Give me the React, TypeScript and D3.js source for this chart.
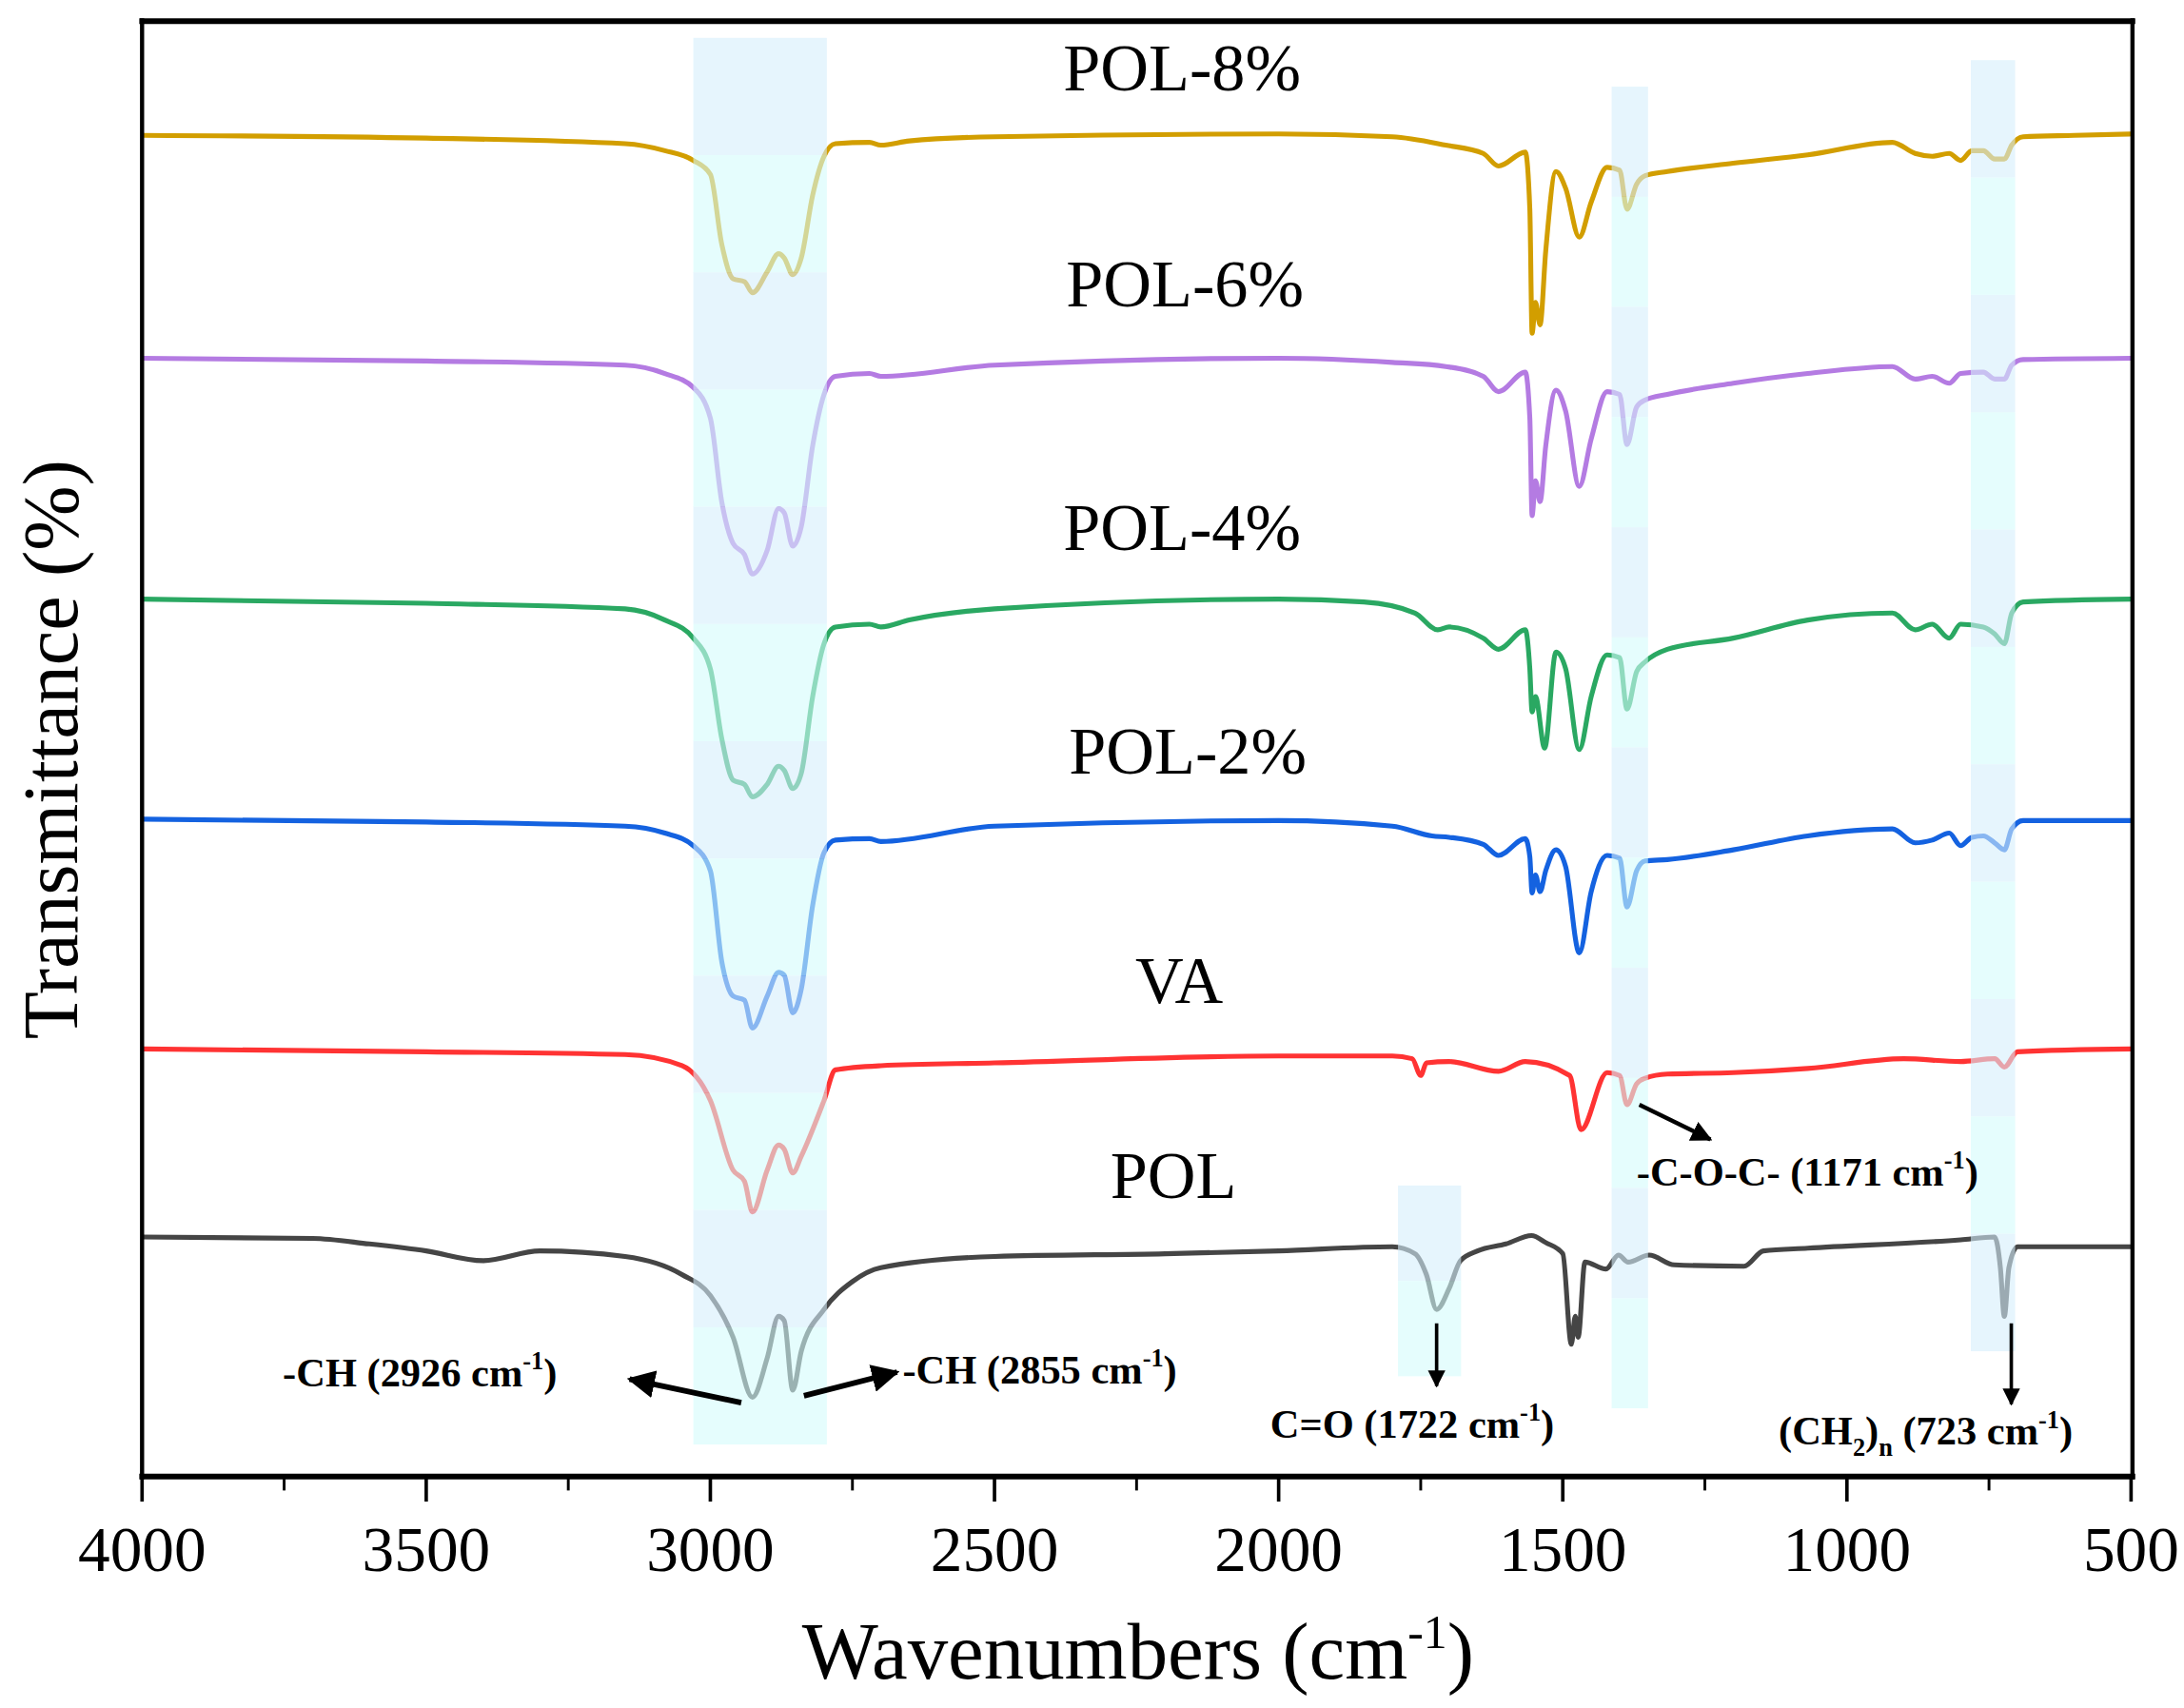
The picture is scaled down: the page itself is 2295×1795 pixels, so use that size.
import * as d3 from 'd3';

// wavenumber (cm-1), offset transmittance (a.u.)
const pol8: [number, number][] = [[4000,96.3],[3500,96.1],[3150,95.7],[3080,95.2],[3030,94.5],[3000,93.5],[2980,88.5],[2960,86.0],[2940,85.8],[2926,85.0],[2900,86.5],[2880,87.8],[2870,87.5],[2855,86.3],[2840,87.5],[2820,92.0],[2800,94.8],[2780,95.7],[2720,95.8],[2700,95.6],[2650,95.9],[2500,96.2],[2000,96.4],[1800,96.2],[1706,95.6],[1640,95.0],[1613,94.1],[1566,95.1],[1558,91.0],[1554,82.1],[1548,84.3],[1540,82.7],[1530,88.0],[1512,93.7],[1495,92.5],[1471,89.0],[1450,91.5],[1422,94.0],[1400,93.8],[1387,91.0],[1370,92.8],[1355,93.4],[1316,93.7],[1200,94.3],[1069,94.9],[920,95.8],[880,95.0],[850,94.8],[820,95.0],[800,94.5],[780,95.2],[760,95.2],[740,94.6],[723,94.6],[710,95.6],[690,96.2],[600,96.3],[500,96.4]];
const pol6: [number, number][] = [[4000,80.3],[3500,80.1],[3150,79.8],[3080,79.2],[3030,78.2],[3000,76.0],[2980,70.0],[2960,67.0],[2940,66.2],[2926,64.8],[2900,66.5],[2880,69.5],[2870,69.2],[2855,66.8],[2840,68.2],[2820,74.0],[2800,77.7],[2780,79.0],[2720,79.2],[2700,79.0],[2500,79.8],[2000,80.3],[1800,80.0],[1706,79.7],[1640,79.0],[1613,77.9],[1566,79.3],[1558,76.0],[1554,69.0],[1548,71.5],[1540,70.0],[1530,74.0],[1512,78.0],[1495,76.5],[1471,71.1],[1450,74.5],[1422,77.9],[1400,77.7],[1387,74.1],[1370,76.8],[1355,77.3],[1316,77.7],[1200,78.5],[1069,79.2],[920,79.7],[880,78.8],[850,79.0],[820,78.5],[800,79.2],[760,79.3],[740,78.8],[723,78.8],[710,79.8],[690,80.2],[500,80.3]];
const pol4: [number, number][] = [[4000,63.0],[3500,62.7],[3150,62.3],[3080,61.5],[3030,60.2],[3000,58.0],[2980,53.0],[2960,50.0],[2940,49.7],[2926,48.8],[2900,49.7],[2880,51.0],[2870,50.7],[2855,49.4],[2840,50.5],[2820,56.0],[2800,59.8],[2780,61.0],[2720,61.2],[2700,61.0],[2650,61.5],[2500,62.3],[2000,63.0],[1850,62.8],[1760,62.0],[1720,60.8],[1700,61.0],[1640,60.2],[1613,59.4],[1566,60.8],[1558,58.0],[1554,54.9],[1548,56.0],[1532,52.3],[1512,59.2],[1495,58.0],[1471,52.2],[1450,56.0],[1422,59.0],[1400,58.8],[1387,55.1],[1370,57.8],[1355,58.5],[1316,59.4],[1200,60.2],[1069,61.5],[920,62.0],[880,60.8],[850,61.2],[820,60.2],[800,61.2],[760,61.0],[740,60.5],[723,59.8],[710,62.0],[690,62.8],[500,63.0]];
const pol2: [number, number][] = [[4000,47.2],[3500,47.0],[3150,46.7],[3080,46.2],[3030,45.3],[3000,43.5],[2980,37.0],[2960,34.5],[2940,34.2],[2926,32.2],[2900,34.5],[2880,36.2],[2870,36.0],[2855,33.3],[2840,35.0],[2820,41.0],[2800,44.8],[2780,45.7],[2720,45.8],[2700,45.6],[2500,46.7],[2000,47.1],[1800,46.7],[1730,46.0],[1700,45.9],[1640,45.4],[1613,44.6],[1566,45.8],[1558,44.5],[1554,41.9],[1548,43.2],[1540,42.0],[1530,43.5],[1512,45.0],[1495,43.8],[1471,37.6],[1450,42.0],[1422,44.6],[1400,44.4],[1387,40.9],[1370,43.5],[1355,44.2],[1316,44.3],[1200,45.0],[1069,46.0],[920,46.5],[880,45.5],[850,45.7],[820,46.2],[800,45.3],[780,45.9],[760,46.0],[740,45.5],[723,45.0],[710,46.5],[690,47.1],[500,47.1]];
const va: [number, number][] = [[4000,30.7],[3500,30.5],[3150,30.3],[3050,29.5],[3000,27.0],[2960,22.0],[2940,21.2],[2926,19.0],[2900,22.0],[2880,23.8],[2870,23.5],[2855,21.8],[2840,23.0],[2800,27.0],[2780,29.2],[2700,29.5],[2500,29.7],[2000,30.2],[1800,30.2],[1765,30.0],[1750,28.8],[1740,29.7],[1700,29.8],[1613,29.1],[1566,29.8],[1488,28.8],[1468,24.9],[1422,29.0],[1400,28.8],[1387,26.7],[1370,28.2],[1355,28.6],[1316,28.9],[1200,29.0],[1069,29.3],[900,30.0],[800,29.8],[740,30.0],[723,29.4],[700,30.5],[500,30.7]];
const pol: [number, number][] = [[4000,17.2],[3700,17.1],[3600,16.7],[3500,16.2],[3400,15.5],[3300,16.2],[3150,15.8],[3050,14.5],[3000,13.0],[2960,10.0],[2926,5.7],[2900,8.5],[2880,11.5],[2870,11.2],[2855,6.2],[2840,9.0],[2800,12.0],[2750,14.0],[2700,15.0],[2500,15.8],[2200,16.0],[2000,16.2],[1800,16.5],[1760,16.0],[1740,14.5],[1722,12.0],[1700,13.5],[1680,15.5],[1650,16.2],[1600,16.7],[1555,17.3],[1530,16.8],[1500,16.0],[1485,9.5],[1478,11.5],[1473,10.0],[1461,15.4],[1424,14.9],[1402,15.9],[1385,15.4],[1348,15.9],[1304,15.2],[1181,15.1],[1147,16.2],[1069,16.4],[800,17.0],[740,17.2],[730,15.0],[723,11.5],[715,15.0],[700,16.5],[500,16.5]];

const seriesNames = ['POL-8%', 'POL-6%', 'POL-4%', 'POL-2%', 'VA', 'POL'];
const seriesData = [pol8, pol6, pol4, pol2, va, pol];
const seriesColors = ['#D29E00', '#B47BE2', '#2AA862', '#1462E0', '#FF3333', '#454545'];
const labelPos: [number, number][] = [[2170, 99.5], [2165, 84], [2170, 66.5], [2160, 50.5], [2175, 34], [2185, 20]];

// highlighted bands: [from, to, top value, bottom value]
const bands: [number, number, number, number][] = [[3030, 2795, 103.3, 2.3], [1790, 1679, 20.9, 7.2], [1414, 1350, 99.8, 4.9], [782, 704, 101.7, 9]];

const xTicks = [4000, 3500, 3000, 2500, 2000, 1500, 1000, 500];
const minorTicks = d3.range(3750, 500, -500);

const W = 1568, H = 1226;
const x = d3.scaleLinear().domain([4000, 500]).range([102, 1530]);
const y = d3.scaleLinear().domain([0, 103.8]).range([1060, 22]);
const line = d3.line<[number, number]>().x(d => x(d[0])).y(d => y(d[1])).curve(d3.curveMonotoneX);
const serif = '"Times New Roman", "Liberation Serif", serif';

function Arrow({ x1, y1, x2, y2, w = 3 }: { x1: number; y1: number; x2: number; y2: number; w?: number }) {
  return <line x1={x1} y1={y1} x2={x2} y2={y2} stroke="#000" strokeWidth={w} markerEnd="url(#ah)" />;
}

function Sup({ t }: { t: string }) {
  return <><tspan dy={-12} fontSize={18}>{t}</tspan><tspan dy={12}>)</tspan></>;
}

export default function App() {
  const stripes = (b: [number, number, number, number], i: number) => {
    const x0 = x(b[0]), x1 = x(b[1]), top = y(b[2]), bot = y(b[3]);
    const n = Math.max(1, Math.round((bot - top) / 81));
    const h = (bot - top) / n;
    return d3.range(n).map(k => (
      <rect key={`${i}-${k}`} x={x0} y={top + k * h} width={x1 - x0} height={h}
        fill={k % 2 === 0 ? '#D6EEFB' : '#D4FCFC'} opacity={0.6} />
    ));
  };
  return (
    <svg width={2295} height={1795} viewBox={`0 0 ${W} ${H}`} style={{ position: 'absolute', left: 0, top: 0, background: '#fff' }} fontFamily={serif}>
      <defs>
        <marker id="ah" viewBox="0 0 10 10" refX="9" refY="5" markerWidth="5" markerHeight="5" orient="auto">
          <path d="M0,0 L10,5 L0,10 z" fill="#000" />
        </marker>
      </defs>
      {seriesData.map((d, i) => (
        <path key={seriesNames[i]} d={line(d) || ''} fill="none" stroke={seriesColors[i]} strokeWidth={3.5} strokeLinejoin="round" />
      ))}
      {bands.map((b, i) => stripes(b, i))}
      {seriesNames.map((n, i) => (
        <text key={n} x={x(labelPos[i][0])} y={y(labelPos[i][1])} fontSize={48} textAnchor="middle">{n}</text>
      ))}
      {/* frame */}
      <line x1={100} y1={15} x2={1533} y2={15} stroke="#000" strokeWidth={4} />
      <line x1={102} y1={13} x2={102} y2={1062} stroke="#000" strokeWidth={3} />
      <line x1={1531} y1={13} x2={1531} y2={1062} stroke="#000" strokeWidth={3} />
      <line x1={100} y1={1060} x2={1533} y2={1060} stroke="#000" strokeWidth={4} />
      {xTicks.map(t => (
        <g key={t}>
          <line x1={x(t)} x2={x(t)} y1={1060} y2={1078} stroke="#000" strokeWidth={2.5} />
          <text x={x(t)} y={1128} fontSize={46} textAnchor="middle">{t}</text>
        </g>
      ))}
      {minorTicks.map(t => <line key={t} x1={x(t)} x2={x(t)} y1={1060} y2={1070} stroke="#000" strokeWidth={2} />)}
      <text x={817} y={1205} fontSize={58} textAnchor="middle">Wavenumbers (cm<tspan dy={-22} fontSize={34}>-1</tspan><tspan dy={22}>)</tspan></text>
      <text transform="translate(55,538) rotate(-90)" fontSize={56} textAnchor="middle">Transmittance (%)</text>
      {/* annotations */}
      <g fontWeight="bold" fontSize={29}>
        <text x={203} y={995}>-CH (2926 cm<Sup t="-1" /></text>
        <Arrow x1={x(2926) - 8} y1={y(5.3)} x2={452} y2={990} w={4} />
        <text x={648} y={993}>-CH (2855 cm<Sup t="-1" /></text>
        <Arrow x1={x(2855) + 8} y1={y(5.8)} x2={644} y2={985} w={4} />
        <text x={912} y={1032}>C=O (1722 cm<Sup t="-1" /></text>
        <Arrow x1={x(1722)} y1={y(11)} x2={x(1722)} y2={995} w={2.5} />
        <text x={1277} y={1037}>(CH<tspan dy={8} fontSize={18}>2</tspan><tspan dy={-8}>)</tspan><tspan dy={8} fontSize={18}>n</tspan><tspan dy={-8}> (723 cm</tspan><Sup t="-1" /></text>
        <Arrow x1={x(723) + 5} y1={y(11)} x2={x(723) + 5} y2={1008} w={2.5} />
        <text x={1175} y={851}>-C-O-C- (1171 cm<Sup t="-1" /></text>
        <Arrow x1={x(1380) + 6} y1={y(26.7)} x2={1228} y2={818} w={3} />
      </g>
    </svg>
  );
}
